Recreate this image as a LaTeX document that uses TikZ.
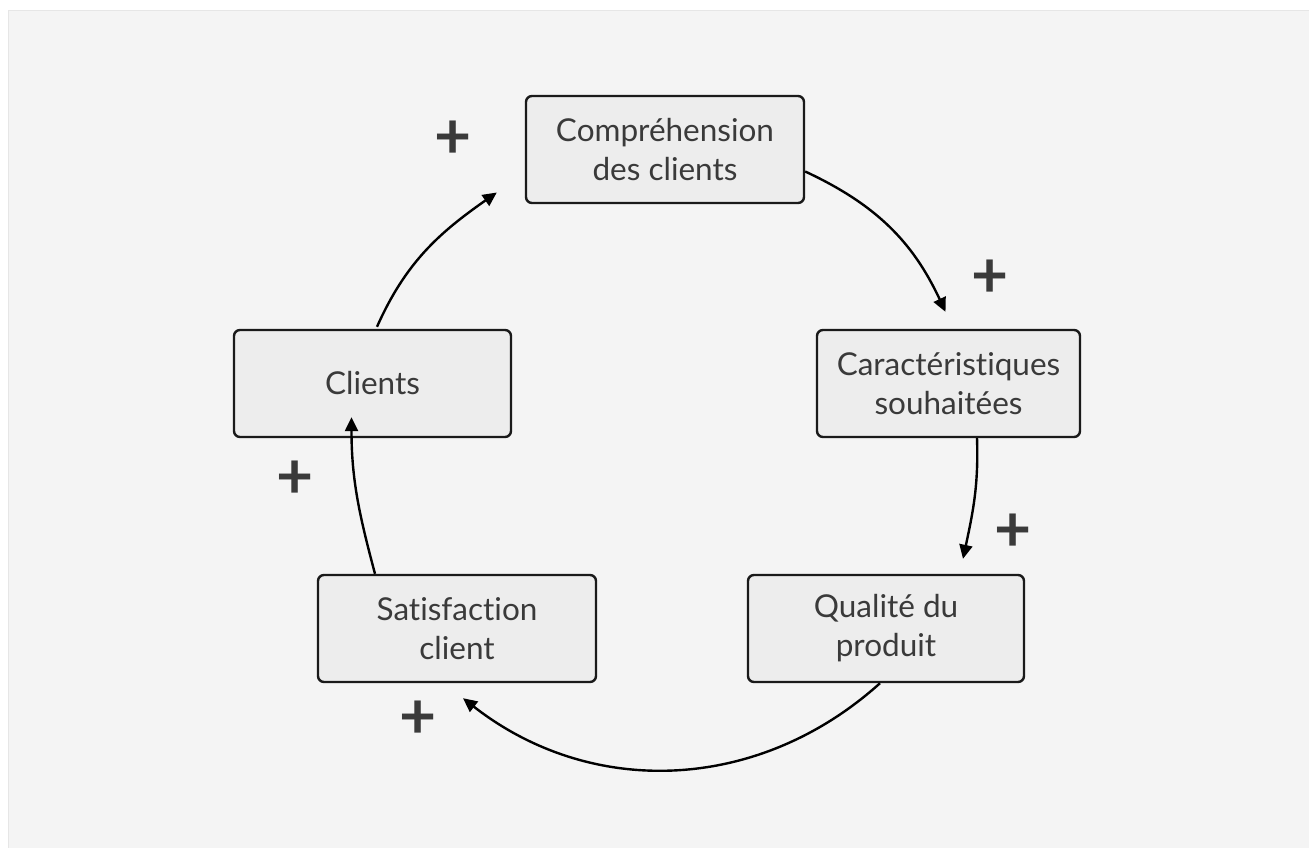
\documentclass[tikz,border=0pt]{standalone}
\usepackage{fontspec}
\setmainfont{Lato}[Ligatures={NoCommon}]
\usetikzlibrary{arrows.meta}
\definecolor{bgpanel}{HTML}{F4F4F4}
\definecolor{paneledge}{HTML}{E6E6E6}
\definecolor{boxfill}{HTML}{EDEDED}
\definecolor{boxline}{HTML}{1A1A1A}
\definecolor{txt}{HTML}{3A3A3A}
\tikzset{
  stage/.style={draw=boxline, fill=boxfill, line width=2.4pt, rounded corners=6pt,
    minimum height=107pt, inner sep=0pt, align=center, text=txt,
    font=\fontsize{31.5}{39}\selectfont},
  link/.style={draw=black, line width=2.4pt, -{Triangle[length=14pt,width=13pt]}},
  sign/.style={text=txt, inner sep=0pt, font=\fontsize{64}{64}\selectfont\bfseries}
}
\begin{document}
\begin{tikzpicture}[x=1pt,y=1pt]
  \useasboundingbox (0,0) rectangle (1309,-848);
  \fill[white] (0,0) rectangle (1309,-848);
  \fill[bgpanel] (8,-10) rectangle (1309,-848);
  \draw[paneledge, line width=1pt] (8.5,-848) -- (8.5,-10.5) -- (1309,-10.5);

  % the five stages of the loop
  \node[stage, minimum width=278pt] (comp) at (665,-149.5) {Compréhension\\des clients};
  \node[stage, minimum width=263pt] (car) at (948.5,-383.5) {Caractéristiques\\souhaitées};
  \node[stage, minimum width=276pt] (qual) at (886,-628.5) {Qualité du\\produit};
  \node[stage, minimum width=278pt] (sat) at (457,-628.5) {Satisfaction\\client};
  \node[stage, minimum width=277pt] (cli) at (372.5,-383.5) {Clients};

  % arrow tips stop short of the next stage
  \coordinate (e1) at ([shift={(-3,17)}]car.north);
  \coordinate (e2) at ([shift={(77,15)}]qual.north);
  \coordinate (e3) at ([shift={(6,-15)}]sat.south);
  \coordinate (e4) at ([shift={(-21,21)}]cli.south);
  \coordinate (e5) at ([shift={(-28,-43)}]comp.west);

  \draw[link] ([yshift=-22]comp.east) to[out=-25,in=115] (e1);
  \draw[link] ([xshift=28.5]car.south) to[out=-88,in=78] (e2);
  \draw[link] ([xshift=-6]qual.south) to[out=-138,in=-38,looseness=1.0] (e3);
  \draw[link] ([xshift=-82]sat.north) to[out=105,in=-90] (e4);
  \draw[link] ([shift={(4.5,2)}]cli.north) to[out=66,in=-145] (e5);

  % polarity of each link
  \node[sign] (p1) at (453,-140) {+};
  \node[sign] (p2) at (990,-279) {+};
  \node[sign] (p3) at (1013,-533) {+};
  \node[sign] (p4) at (295,-480) {+};
  \node[sign] (p5) at (418,-720) {+};
\end{tikzpicture}
\end{document}
